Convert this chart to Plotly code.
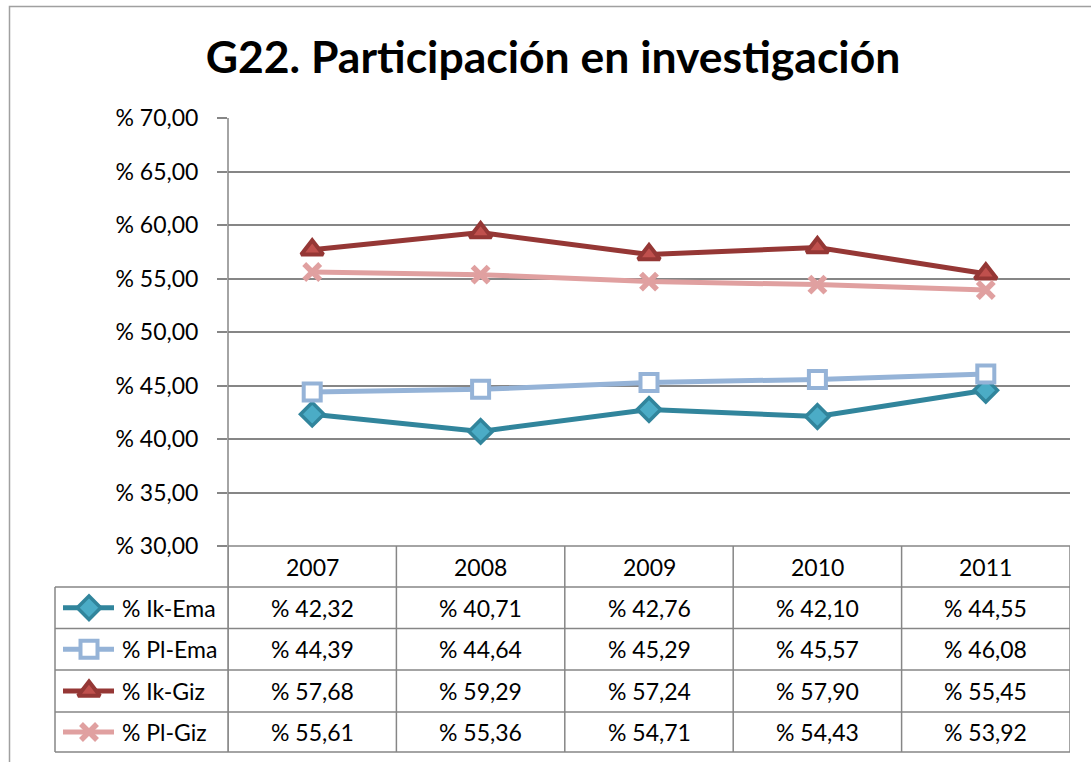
import plotly.graph_objects as go

# --- datos ---
years = ["2007", "2008", "2009", "2010", "2011"]
series_names = ["% Ik-Ema", "% Pl-Ema", "% Ik-Giz", "% Pl-Giz"]
ik_ema = [42.32, 40.71, 42.76, 42.10, 44.55]
pl_ema = [44.39, 44.64, 45.29, 45.57, 46.08]
ik_giz = [57.68, 59.29, 57.24, 57.90, 55.45]
pl_giz = [55.61, 55.36, 54.71, 54.43, 53.92]
y_ticks = [30, 35, 40, 45, 50, 55, 60, 65, 70]
y_ticktext = ["% 30,00", "% 35,00", "% 40,00", "% 45,00", "% 50,00",
              "% 55,00", "% 60,00", "% 65,00", "% 70,00"]
title_text = "G22. Participación en investigación"

W, H = 1091, 762
FONT = "Lato"
FS = 23
GRID = "#868686"

def py(p):
    # pixel fila -> paper y
    return (H - p) / H

def px(p):
    return p / W

styles = [
    dict(line=dict(color="#31859C", width=5),
         marker=dict(symbol="diamond", size=18, color="#4BACC6",
                     line=dict(color="#31859C", width=3.5))),
    dict(line=dict(color="#95B3D7", width=5),
         marker=dict(symbol="square", size=17, color="white",
                     line=dict(color="#95B3D7", width=4))),
    dict(line=dict(color="#953735", width=5),
         marker=dict(symbol="triangle-up", size=19, color="#C0504D",
                     line=dict(color="#953735", width=4))),
    dict(line=dict(color="#E0A0A0", width=5),
         marker=dict(symbol="x-thin", size=16, color="#E0A0A0",
                     line=dict(color="#E0A0A0", width=5.5))),
]
values = [ik_ema, pl_ema, ik_giz, pl_giz]

fig = go.Figure()
for name, vals, st in zip(series_names, values, styles):
    fig.add_trace(go.Scatter(
        x=years, y=vals, name=name, mode="lines+markers",
        line=st["line"], marker=st["marker"], showlegend=False,
        cliponaxis=False))

# tabla de datos
row_lines = [546, 587, 628.5, 670, 712, 752]
shapes = []
annotations = []
x_left = 55
for i, yl in enumerate(row_lines):
    shapes.append(dict(type="line", xref="paper", yref="paper",
                       x0=px(228 if i == 0 else x_left), x1=px(1070),
                       y0=py(yl), y1=py(yl),
                       line=dict(color=GRID, width=1.5)))
for k in range(len(years) + 1):
    shapes.append(dict(type="line", xref="x", yref="paper",
                       x0=k - 0.5, x1=k - 0.5, y0=py(546), y1=py(752),
                       line=dict(color=GRID, width=1.5)))
shapes.append(dict(type="line", xref="paper", yref="paper",
                   x0=px(x_left), x1=px(x_left), y0=py(587), y1=py(752),
                   line=dict(color=GRID, width=1.5)))
# borde exterior
shapes.append(dict(type="rect", xref="paper", yref="paper",
                   x0=px(9.5), x1=px(1100), y0=py(6.5), y1=py(780),
                   line=dict(color="#A0A0A0", width=1.5)))

header_c = (row_lines[0] + row_lines[1]) / 2
for k, yr in enumerate(years):
    annotations.append(dict(x=k, y=py(header_c), xref="x", yref="paper",
                            xanchor="center", yanchor="middle",
                            text=yr, showarrow=False,
                            font=dict(family=FONT, size=FS, color="black")))

for r, (name, vals, st) in enumerate(zip(series_names, values, styles)):
    yc = (row_lines[r + 1] + row_lines[r + 2]) / 2
    for k, v in enumerate(vals):
        annotations.append(dict(
            x=k, y=py(yc), xref="x", yref="paper",
            xanchor="center", yanchor="middle",
            text="% " + f"{v:.2f}".replace(".", ","), showarrow=False,
            font=dict(family=FONT, size=FS, color="black")))
    annotations.append(dict(
        x=px(120), y=py(yc), xref="paper", yref="paper",
        xanchor="left", yanchor="middle",
        text=name, showarrow=False,
        font=dict(family=FONT, size=FS, color="black")))
    # clave de leyenda
    fig.add_trace(go.Scatter(
        x=[63, 114], y=[yc, yc], mode="lines", line=st["line"],
        xaxis="x2", yaxis="y2", showlegend=False, hoverinfo="skip"))
    fig.add_trace(go.Scatter(
        x=[89], y=[yc], mode="markers", marker=st["marker"],
        xaxis="x2", yaxis="y2", showlegend=False, hoverinfo="skip"))

# eje vertical prolongado por la tabla
shapes.append(dict(type="line", xref="paper", yref="paper",
                   x0=px(228), x1=px(228), y0=py(118), y1=py(752),
                   line=dict(color=GRID, width=1.5)))

fig.update_layout(
    width=W, height=H,
    margin=dict(l=0, r=0, t=0, b=0, autoexpand=False),
    paper_bgcolor="white", plot_bgcolor="rgba(0,0,0,0)",
    title=dict(text=f"<b>{title_text}</b>", x=px(553), y=py(57),
               xanchor="center", yanchor="middle",
               font=dict(family=FONT, size=44.5, color="black")),
    xaxis=dict(domain=[px(228), px(1070)], range=[-0.5, 4.5],
               showticklabels=False, showgrid=False, zeroline=False,
               showline=False, ticks=""),
    yaxis=dict(domain=[py(546), py(118)], range=[30, 70],
               tickvals=y_ticks, ticktext=y_ticktext,
               showgrid=True, gridcolor=GRID, gridwidth=1.5,
               zeroline=False, showline=False, automargin=False,
               ticks="outside", ticklen=10, tickcolor=GRID, tickwidth=1.5,
               ticklabelstandoff=14,
               tickfont=dict(family=FONT, size=FS, color="black")),
    xaxis2=dict(domain=[0, 1], range=[0, W], visible=False, anchor="y2"),
    yaxis2=dict(domain=[0, 1], range=[H, 0], visible=False, anchor="x2"),
    shapes=shapes,
    annotations=annotations,
)

fig.write_html("out.html", config={"displayModeBar": False},
               post_script="document.body.style.margin='0';")
